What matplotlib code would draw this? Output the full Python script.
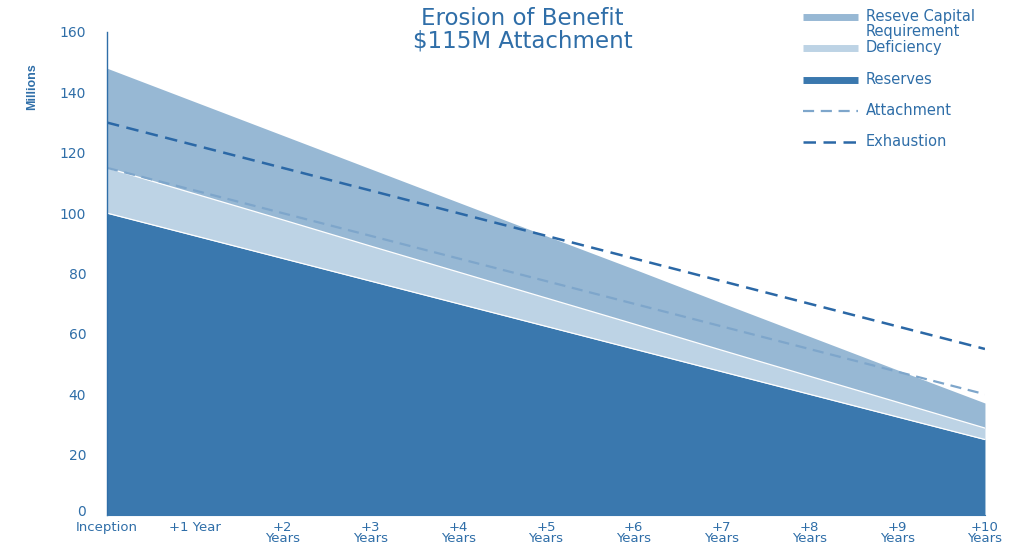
import numpy as np
import matplotlib.pyplot as plt
import matplotlib.transforms as mtransforms
from matplotlib.lines import Line2D

plt.rcParams['font.family'] = ['DejaVu Sans']

periods = ['Inception', '+1 Year', '+2\nYears', '+3\nYears', '+4\nYears', '+5\nYears',
           '+6\nYears', '+7\nYears', '+8\nYears', '+9\nYears', '+10\nYears']
reserves = [100, 92.5, 85, 77.5, 70, 62.5, 55, 47.5, 40, 32.5, 25]
deficiency = [15, 13.9, 12.8, 11.6, 10.5, 9.4, 8.3, 7.1, 6, 4.9, 3.8]
capital_req = [33, 30.5, 28, 25.6, 23.1, 20.6, 18.2, 15.7, 13.2, 10.7, 8.3]
attachment = [115, 107.5, 100, 92.5, 85, 77.5, 70, 62.5, 55, 47.5, 40]
exhaustion = [130, 122.5, 115, 107.5, 100, 92.5, 85, 77.5, 70, 62.5, 55]

c_res = '#3a78ae'
c_def = '#bdd3e5'
c_cap = '#97b8d4'
c_att = '#7ea6cb'
c_exh = '#2b68a6'
c_txt = '#2f6ea8'

x = np.arange(len(periods))
r = np.array(reserves)
d = r + np.array(deficiency)
c = d + np.array(capital_req)

fig = plt.figure(figsize=(10.15, 5.44), dpi=100)
ax = fig.add_axes([0.1054, 0.0533, 0.8650, 0.8879])

ax.fill_between(x, 0, r, color=c_res, lw=0)
ax.fill_between(x, r, d, color=c_def, lw=0)
ax.fill_between(x, d, c, color=c_cap, lw=0)
ax.plot(x, r, color='white', lw=0.9)
ax.plot(x, d, color='white', lw=0.9)

ax.plot(x, attachment, color=c_att, lw=1.6, dashes=(5, 3))
ax.plot(x, exhaustion, color=c_exh, lw=1.8, dashes=(5, 3))

ax.set_xlim(0, 10)
ax.set_ylim(0, 160)
ax.set_xticks(x)
ax.set_xticklabels(periods, color=c_txt, fontsize=9.5, linespacing=0.88)
ax.set_yticks(range(0, 161, 20))
ax.set_yticklabels([str(v) for v in range(0, 161, 20)], color=c_txt, fontsize=10)
ax.tick_params(length=0, axis='y', pad=15)
ax.tick_params(length=0, axis='x', pad=4)
for s in ['top', 'right']:
    ax.spines[s].set_visible(False)
ax.spines['left'].set_color(c_txt)
ax.spines['left'].set_linewidth(1)
ax.spines['bottom'].set_color(c_res)
ax.spines['bottom'].set_linewidth(0.8)

# nudge the zero label up a little so it clears "Inception"
zero_lbl = ax.get_yticklabels()[0]
zero_lbl.set_transform(zero_lbl.get_transform() +
                       mtransforms.ScaledTranslation(0, 3 / 72, fig.dpi_scale_trans))

fig.text(0.032, 0.84, 'Millions', rotation=90, ha='center', va='center',
         fontsize=9, fontweight='bold', color=c_txt,
         family=['Liberation Sans Narrow', 'Liberation Sans'])

fig.text(0.515, 0.945, 'Erosion of Benefit\n$115M Attachment', ha='center', va='center',
         fontsize=16.5, color=c_txt, linespacing=0.95)

# legend drawn by hand at the top right
items = [('Reseve Capital\nRequirement', c_cap, 5, None, 0.969),
         ('Deficiency', c_def, 5, None, 0.912),
         ('Reserves', c_res, 5, None, 0.853),
         ('Attachment', c_att, 1.6, (5, 3), 0.796),
         ('Exhaustion', c_exh, 1.8, (5, 3), 0.739)]
for label, col, lw, dash, yy in items:
    ln = Line2D([0.791, 0.845], [yy, yy], transform=fig.transFigure, color=col, lw=lw,
                solid_capstyle='butt')
    if dash:
        ln.set_dashes(dash)
    fig.add_artist(ln)
    fig.text(0.853, yy, label.split('\n')[0], ha='left', va='center', fontsize=10.5, color=c_txt)
    if '\n' in label:
        fig.text(0.853, yy - 0.027, label.split('\n')[1], ha='left', va='center',
                 fontsize=10.5, color=c_txt)

plt.savefig('out.png', dpi=100)
